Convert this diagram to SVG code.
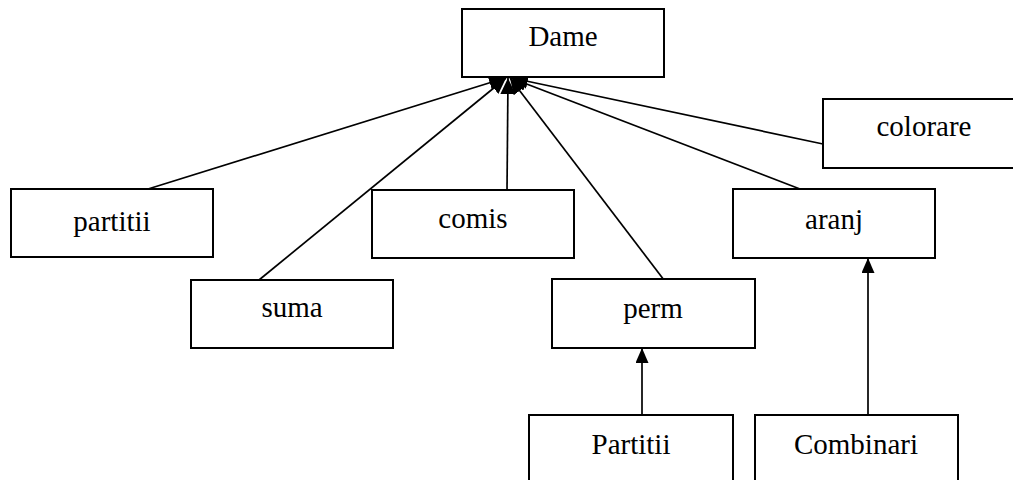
<svg xmlns="http://www.w3.org/2000/svg" width="1013" height="480" viewBox="0 0 1013 480">
<style>
.box{fill:#fff;stroke:#000;stroke-width:2}
.lbl{font-family:"Liberation Serif","Times New Roman",serif;font-size:29px;fill:#000;text-anchor:middle}
.conn{stroke:#000;stroke-width:1.7;fill:none}
.up{marker-end:url(#arr)}
.top{marker-end:url(#arrB)}
</style>
<defs>
<marker id="arr" viewBox="0 0 15 13" refX="15" refY="6.5" markerWidth="15" markerHeight="13" markerUnits="userSpaceOnUse" orient="auto">
<path d="M0,0 L15,6.5 L0,13 z" fill="#000"/>
</marker>
<marker id="arrB" viewBox="0 0 16 15" refX="16" refY="7.5" markerWidth="16" markerHeight="15" markerUnits="userSpaceOnUse" orient="auto">
<path d="M0,0 L16,7.5 L0,15 z" fill="#000"/>
</marker>
</defs>
<rect width="1013" height="480" fill="#fff"/>
<g id="connectors">
<line class="conn top" x1="148" y1="189" x2="505" y2="78"/>
<line class="conn top" x1="259" y1="280" x2="506" y2="78"/>
<line class="conn top" x1="507" y1="190" x2="508" y2="78"/>
<line class="conn top" x1="664" y1="280" x2="510" y2="78"/>
<line class="conn top" x1="800" y1="189" x2="511" y2="78"/>
<line class="conn top" x1="823" y1="144" x2="512" y2="78"/>
<line class="conn up" x1="642" y1="415" x2="642" y2="348"/>
<line class="conn up" x1="868" y1="415" x2="868" y2="258"/>
</g>
<g id="dame"><rect class="box" x="462" y="9" width="202" height="68"/><text class="lbl" x="563" y="46">Dame</text></g>
<g id="colorare"><rect class="box" x="823" y="99" width="202" height="69"/><text class="lbl" x="924" y="136">colorare</text></g>
<g id="partitii"><rect class="box" x="11" y="189" width="202" height="68"/><text class="lbl" x="112" y="231">partitii</text></g>
<g id="comis"><rect class="box" x="372" y="190" width="202" height="68"/><text class="lbl" x="473" y="228">comis</text></g>
<g id="aranj"><rect class="box" x="733" y="189" width="202" height="69"/><text class="lbl" x="834" y="229">aranj</text></g>
<g id="suma"><rect class="box" x="191" y="280" width="202" height="68"/><text class="lbl" x="292" y="317">suma</text></g>
<g id="perm"><rect class="box" x="552" y="279" width="203" height="69"/><text class="lbl" x="653" y="318">perm</text></g>
<g id="Partitii"><rect class="box" x="529" y="415" width="204" height="70"/><text class="lbl" x="631" y="454">Partitii</text></g>
<g id="Combinari"><rect class="box" x="755" y="415" width="203" height="70"/><text class="lbl" x="856" y="454">Combinari</text></g>
</svg>
